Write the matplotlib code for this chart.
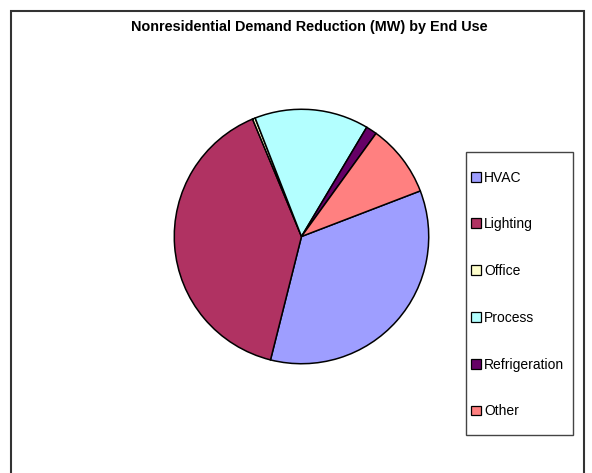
import matplotlib.pyplot as plt
from matplotlib.patches import Patch, Rectangle

plt.rcParams["font.family"] = ["Liberation Sans", "DejaVu Sans"]

# Share of nonresidential demand reduction by end use (%)
end_uses = ["HVAC", "Lighting", "Office", "Process", "Refrigeration", "Other"]
shares = [34.75, 39.8, 0.35, 14.5, 1.4, 9.2]
colors = ["#9E9EFF", "#B03262", "#FFFFCC", "#B3FFFF", "#660066", "#FF8080"]

W, H = 592, 473
fig = plt.figure(figsize=(W / 100, H / 100), dpi=100)


def px_box(x0, y0, x1, y1, **kw):
    # rectangle given in image pixels (y down)
    return Rectangle((x0 / W, 1 - y1 / H), (x1 - x0) / W, (y1 - y0) / H,
                     transform=fig.transFigure, fill=False, **kw)


# outer chart frame (runs past the bottom of the image)
fig.patches.append(px_box(10.5, 11.5, 583.5, 490, edgecolor="#333333", linewidth=1.5))

fig.text(309 / W, 1 - 26.5 / H, "Nonresidential Demand Reduction (MW) by End Use",
         ha="center", va="center", fontsize=10.4, fontweight="bold")

cx, cy, r = 301.5, 236.5, 128.5
ax = fig.add_axes([(cx - r) / W, (H - cy - r) / H, 2 * r / W, 2 * r / H])
ax.pie(shares, colors=colors, startangle=21, counterclock=False,
       wedgeprops=dict(edgecolor="black", linewidth=1.1))
ax.set_xlim(-1.01, 1.01)
ax.set_ylim(-1.01, 1.01)
ax.set_aspect("equal")
ax.axis("off")

# legend frame drawn separately, entries placed inside it
fig.patches.append(px_box(465.5, 152.5, 573, 435, edgecolor="#444444", linewidth=1.0))
handles = [Patch(facecolor=c, edgecolor="black", linewidth=0.9) for c in colors]
leg = fig.legend(handles, end_uses, loc="upper left",
                 bbox_to_anchor=(471 / W, 1 - 170.5 / H),
                 fontsize=10, frameon=False,
                 handlelength=0.72, handleheight=0.72, handletextpad=0.22,
                 labelspacing=2.36, borderpad=0, borderaxespad=0)

fig.savefig("out.png", dpi=100)
